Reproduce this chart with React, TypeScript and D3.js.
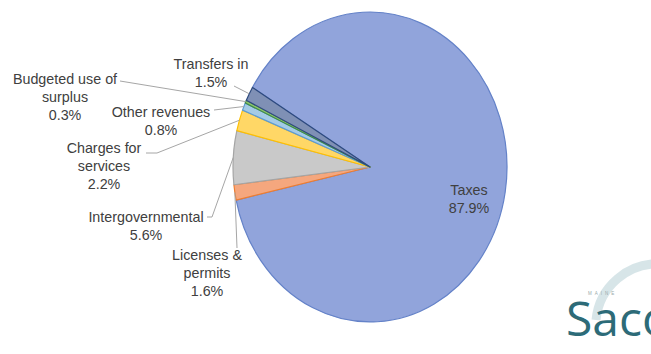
import React from "react";
import * as d3 from "d3";

const categories = [
  "Taxes",
  "Licenses & permits",
  "Intergovernmental",
  "Charges for services",
  "Other revenues",
  "Budgeted use of surplus",
  "Transfers in",
];
const values = [87.9, 1.6, 5.6, 2.2, 0.8, 0.3, 1.5];
const labelLines = [
  ["Taxes", "87.9%"],
  ["Licenses &", "permits", "1.6%"],
  ["Intergovernmental", "5.6%"],
  ["Charges for", "services", "2.2%"],
  ["Other revenues", "0.8%"],
  ["Budgeted use of", "surplus", "0.3%"],
  ["Transfers in", "1.5%"],
];

const fills = ["#91A4DB", "#F5A77E", "#C9C9C9", "#FFD766", "#A4CBE6", "#8CC46B", "#7F90B5"];
const strokes = ["#6482C8", "#ED7D31", "#A5A5A5", "#FFC000", "#5B9BD5", "#3F8A4A", "#2E4A7E"];

// label layout: centre x, first line centre y, leader start, optional elbow
const labelPos = [
  { x: 469, y: 190, leader: null },
  { x: 207, y: 255, leader: [[237, 248]] },
  { x: 146, y: 217, leader: [[207, 217], [212, 217]] },
  { x: 104, y: 148, leader: [[146, 153], [157, 153]] },
  { x: 161, y: 112, leader: [[214, 110]] },
  { x: 65, y: 79, leader: [[120, 81]] },
  { x: 211, y: 64, leader: [[234, 86]] },
];

const cx = 370;
const cy = 167;
const r = 137;
const sy = 1.131;

export default function App() {
  const start = (-59.1 * Math.PI) / 180;
  const pie = d3
    .pie<number>()
    .sort(null)
    .value((d) => d)
    .startAngle(start)
    .endAngle(start + 2 * Math.PI);
  const arcs = pie(values);
  const arc = d3.arc<d3.PieArcDatum<number>>().innerRadius(0).outerRadius(r);
  const lineH = 18;

  const edgePoint = (a: d3.PieArcDatum<number>) => {
    const m = (a.startAngle + a.endAngle) / 2;
    return [cx + r * Math.sin(m), cy - r * Math.cos(m) * sy];
  };

  return (
    <svg width={651} height={354} style={{ position: "absolute", left: 0, top: 0, background: "#fff" }}>
      <g transform={`translate(${cx},${cy}) scale(1,${sy})`}>
        {arcs.map((a, i) => (
          <path
            key={categories[i]}
            d={arc(a) || ""}
            fill={fills[i]}
            stroke={strokes[i]}
            strokeWidth={1.2}
            vectorEffect="non-scaling-stroke"
            strokeLinejoin="round"
          />
        ))}
      </g>
      {arcs.map((a, i) => {
        const lp = labelPos[i];
        if (!lp.leader) return null;
        const pts = [...lp.leader, edgePoint(a)];
        return (
          <polyline
            key={"l" + i}
            points={pts.map((p) => p.join(",")).join(" ")}
            fill="none"
            stroke="#A6A6A6"
            strokeWidth={1}
          />
        );
      })}
      {labelLines.map((lines, i) => (
        <text
          key={"t" + i}
          x={labelPos[i].x}
          y={labelPos[i].y}
          textAnchor="middle"
          fontFamily="Liberation Sans, Arial, sans-serif"
          fontSize={14.3}
          fill="#404040"
        >
          {lines.map((s, j) => (
            <tspan key={j} x={labelPos[i].x} y={labelPos[i].y + j * lineH} dominantBaseline="central">
              {s}
            </tspan>
          ))}
        </text>
      ))}
      {/* logo */}
      <path d="M 596 320 A 62 62 0 0 1 662 264" fill="none" stroke="#D3E2E5" strokeWidth={9} opacity={0.9} />
      <text x={588} y={295} fontFamily="Liberation Sans, Arial, sans-serif" fontSize={4.5} letterSpacing={3} fill="#9AA">
        MAINE
      </text>
      <text x={566} y={336} fontFamily="Open Sans, Liberation Sans, sans-serif" fontSize={48} fill="#2D6B78">
        Saco
      </text>
    </svg>
  );
}
